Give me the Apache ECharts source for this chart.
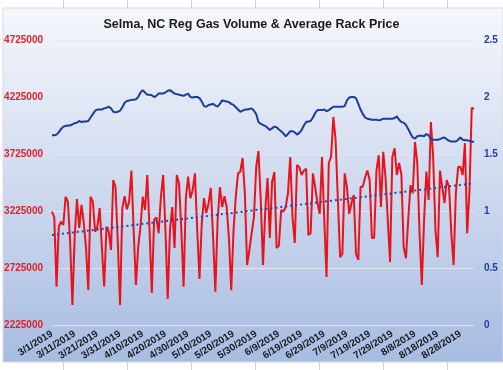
<!DOCTYPE html>
<html>
<head>
<meta charset="utf-8">
<script src="https://cdn.jsdelivr.net/npm/echarts@6/dist/echarts.min.js"></script>
<style>
html,body{margin:0;padding:0;background:#fff;}
#c{width:503px;height:370px;}
</style>
</head>
<body>
<div id="c"></div>
<script>
const titleText = 'Selma, NC Reg Gas Volume & Average Rack Price';
const startDate = [2019, 3, 1];
const volume = [
3219000,3170000,2561000,3087000,3131000,3102000,3350000,3307000,2950000,2400000,
3000000,3330000,3076000,3278000,3120000,2900000,2532000,3350000,3307000,3043000,
3087000,3250000,2900000,2561000,3087000,3043000,2883000,3497000,3438000,2950000,
2400000,3250000,3355000,3240000,3307000,3579000,3050000,2576000,2912000,3087000,
3350000,3234000,3541000,3050000,2506000,3146000,3170000,3030000,3350000,3541000,
3060000,2453000,3060000,3260000,2900000,3541000,3467000,3060000,2561000,3338000,
3526000,3338000,3409000,3555000,3060000,2628000,3116000,3338000,3207000,3290000,
3427000,3000000,2517000,3146000,3435000,3260000,3355000,3260000,2980000,2530000,
3050000,3350000,3555000,3570000,3690000,3380000,2751000,2883000,3030000,3170000,
3611000,3750000,3322000,2751000,3234000,3514000,2988000,3480000,3567000,2900000,
2920000,3234000,3220000,3260000,3380000,3699000,3170000,2944000,3628000,3611000,
3541000,3580000,3595000,3014000,3030000,3555000,3435000,3295000,3200000,3699000,
3146000,2646000,3646000,3699000,4050000,3848000,3322000,2820000,2850000,3555000,
3435000,3200000,3295000,3365000,2850000,2795000,3435000,3440000,3520000,3580000,
3497000,2988000,2988000,3580000,3716000,3260000,3745000,3520000,3146000,2778000,
3699000,3775000,3541000,3646000,3541000,2910000,2810000,3146000,3450000,3380000,
3830000,3646000,3030000,2576000,3146000,3570000,3322000,4006000,3699000,3060000,
2820000,3580000,3435000,3295000,3497000,3435000,3030000,2751000,3380000,3611000,
3614000,3540000,3820000,3030000,3400000,4130000,4120000
];
const price = [
1.665,1.665,1.67,1.69,1.72,1.74,1.745,1.75,1.75,1.76,
1.77,1.775,1.79,1.78,1.785,1.785,1.79,1.82,1.85,1.88,
1.89,1.89,1.89,1.9,1.905,1.915,1.9,1.87,1.865,1.87,
1.88,1.91,1.95,1.965,1.97,1.975,1.975,1.98,2.0,2.04,
2.06,2.04,2.02,2.02,2.015,2.0,2.01,2.03,2.03,2.03,
2.04,2.055,2.06,2.045,2.03,2.025,2.02,2.015,2.01,2.02,
2.03,2.0,1.995,2.0,2.0,1.99,1.96,1.92,1.915,1.93,
1.935,1.94,1.925,1.915,1.94,1.97,1.965,1.96,1.955,1.94,
1.93,1.91,1.89,1.87,1.88,1.89,1.89,1.895,1.9,1.88,
1.85,1.78,1.765,1.755,1.745,1.73,1.71,1.725,1.74,1.735,
1.715,1.7,1.68,1.655,1.675,1.7,1.7,1.69,1.67,1.685,
1.71,1.75,1.78,1.785,1.79,1.82,1.86,1.885,1.885,1.885,
1.89,1.875,1.885,1.9,1.915,1.915,1.915,1.915,1.915,1.92,
1.97,1.995,2.0,2.0,1.99,1.94,1.89,1.85,1.82,1.81,
1.805,1.8,1.8,1.8,1.795,1.8,1.81,1.81,1.81,1.81,
1.81,1.815,1.83,1.8,1.78,1.775,1.755,1.72,1.68,1.645,
1.635,1.655,1.66,1.66,1.655,1.675,1.665,1.63,1.625,1.625,
1.625,1.63,1.64,1.645,1.63,1.615,1.61,1.61,1.61,1.625,
1.645,1.625,1.62,1.62,1.615,1.61,1.605
];
const trendEnds = [3014000, 3468000];
const leftTicks = [2225000, 4725000, 500000];
const rightTicks = [0, 2.5, 0.5];

const categories = [];
for (let i = 0; i < volume.length; i++) {
  const d = new Date(Date.UTC(startDate[0], startDate[1] - 1, startDate[2] + i));
  categories.push((d.getUTCMonth() + 1) + '/' + d.getUTCDate() + '/' + d.getUTCFullYear());
}
const trendData = [[categories[0], trendEnds[0]], [categories[categories.length - 1], trendEnds[1]]];

const font = '"Liberation Sans", Arial, sans-serif';
const chart = echarts.init(document.getElementById('c'), null, {renderer: 'canvas'});
const gridLines = [63,127,191,255,319,383,447];
const graphics = [
  {type:'rect', silent:true, z:-10, shape:{x:3, y:8, width:500, height:354},
   style:{fill:new echarts.graphic.LinearGradient(0,0,0,1,[{offset:0,color:'#f5f7fc'},{offset:0.5,color:'#cfdaef'},{offset:1,color:'#a7bce2'}]), stroke:'#d6d9de', lineWidth:1}}
];
gridLines.forEach(function(x){
  graphics.push({type:'line', silent:true, z:-11, shape:{x1:x+0.5,y1:0,x2:x+0.5,y2:8}, style:{stroke:'#d4d4d4', lineWidth:1}});
  graphics.push({type:'line', silent:true, z:-11, shape:{x1:x+0.5,y1:362,x2:x+0.5,y2:370}, style:{stroke:'#d4d4d4', lineWidth:1}});
});

chart.setOption({
  backgroundColor: '#ffffff',
  animation: false,
  graphic: graphics,
  title: {
    text: titleText, left: 'center', top: 13,
    textStyle: {fontFamily: font, fontSize: 12.5, fontWeight: 'bold', color: '#1b1b1b'}
  },
  grid: {left: 52, right: 29, top: 40, bottom: 45, containLabel: false},
  xAxis: {
    type: 'category', data: categories, boundaryGap: false,
    axisLine: {show: false}, axisTick: {show: false},
    axisLabel: {interval: 9, rotate: 32, margin: 8, fontFamily: font, fontSize: 10, fontWeight: 'bold', color: '#1a1a1a'},
    splitLine: {show: false}
  },
  yAxis: [
    {type: 'value', min: leftTicks[0], max: leftTicks[1], interval: leftTicks[2],
     axisLine: {show: false}, axisTick: {show: false},
     axisLabel: {margin: 9, fontFamily: font, fontSize: 10, fontWeight: 'bold', color: '#e0202a',
                 formatter: function (v) { return String(Math.round(v)); }},
     splitLine: {lineStyle: {color: 'rgba(226,232,244,0.9)', width: 1}}},
    {type: 'value', min: rightTicks[0], max: rightTicks[1], interval: rightTicks[2],
     axisLine: {show: false}, axisTick: {show: false},
     axisLabel: {margin: 10, fontFamily: font, fontSize: 10, fontWeight: 'bold', color: '#1f3f9c',
                 formatter: function (v) { return String(Math.round(v * 10) / 10); }},
     splitLine: {show: false}}
  ],
  series: [
    {name: 'Volume', type: 'line', yAxisIndex: 0, data: volume, showSymbol: false, symbol: 'none',
     lineStyle: {color: '#e8141c', width: 2}, z: 3},
    {name: 'Price', type: 'line', yAxisIndex: 1, data: price, showSymbol: false, symbol: 'none',
     lineStyle: {color: '#1c3d9c', width: 2}, z: 4},
    {name: 'Trend', type: 'line', yAxisIndex: 0, data: trendData, showSymbol: false, symbol: 'none',
     lineStyle: {color: '#2a45a8', width: 2, type: [2, 3]}, z: 5}
  ]
});
</script>
</body>
</html>
